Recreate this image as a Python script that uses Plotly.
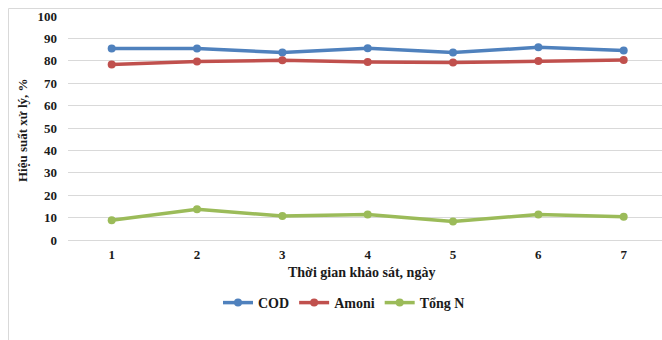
import plotly.graph_objects as go

# Survey days and treatment efficiencies (%)
days = [1, 2, 3, 4, 5, 6, 7]
cod = [85.5, 85.5, 83.7, 85.6, 83.7, 86.0, 84.6]
amoni = [78.3, 79.7, 80.2, 79.5, 79.2, 79.9, 80.4]
tong_n = [8.8, 13.7, 10.7, 11.4, 8.3, 11.4, 10.4]

series_names = ["COD", "Amoni", "Tổng N"]
series_colors = ["#4F81BD", "#C0504D", "#9BBB59"]
y_ticks = list(range(0, 101, 10))

FONT = "Liberation Serif, Times New Roman, serif"
TEXT_COLOR = "#1a1a1a"
GRID = "#D9D9D9"

W, H = 662, 340
L, R, T, B = 68, 0, 16, 100
plot_w = W - L - R
plot_h = H - T - B


def px_x(p):
    return (p - L) / plot_w


def px_y(p):
    return (H - B - p) / plot_h


fig = go.Figure()
for name, vals, col in zip(series_names, [cod, amoni, tong_n], series_colors):
    fig.add_trace(go.Scatter(
        x=days, y=vals, name=name, mode="lines+markers",
        line=dict(color=col, width=3.5),
        marker=dict(color=col, size=8),
    ))

fig.update_layout(
    width=W, height=H,
    margin=dict(l=L, r=R, t=T, b=B),
    paper_bgcolor="white", plot_bgcolor="white",
    font=dict(family=FONT, size=13, color=TEXT_COLOR),
    showlegend=True,
    legend=dict(
        orientation="h", xref="container", yref="container",
        x=218 / W, y=(H - 303) / H, xanchor="left", yanchor="middle",
        font=dict(family=FONT, size=14, color=TEXT_COLOR, weight="bold"),
        itemwidth=30, bgcolor="rgba(0,0,0,0)", tracegroupgap=0,
    ),
    xaxis=dict(
        range=[0.488, 7.449], tickmode="array", tickvals=days,
        ticktext=[str(d) for d in days],
        showgrid=False, zeroline=False,
        showline=True, linecolor=GRID, linewidth=1,
        ticks="", ticklabelstandoff=2,
        tickfont=dict(family=FONT, size=13, color=TEXT_COLOR, weight="bold"),
        fixedrange=True,
    ),
    yaxis=dict(
        range=[0, 100], tickmode="array", tickvals=y_ticks,
        showgrid=True, gridcolor=GRID, gridwidth=1,
        zeroline=False, showline=False,
        ticks="", ticklabelstandoff=10,
        tickfont=dict(family=FONT, size=13, color=TEXT_COLOR, weight="bold"),
        fixedrange=True,
    ),
    annotations=[
        dict(text="Thời gian khảo sát, ngày", xref="paper", yref="paper",
             x=px_x(361), y=px_y(272), xanchor="center", yanchor="middle",
             showarrow=False,
             font=dict(family=FONT, size=14, color=TEXT_COLOR, weight="bold")),
        dict(text="Hiệu suất xử lý, %", xref="paper", yref="paper",
             x=px_x(22), y=px_y(130), xanchor="center", yanchor="middle",
             textangle=-90, showarrow=False,
             font=dict(family=FONT, size=13, color=TEXT_COLOR, weight="bold")),
    ],
    shapes=[
        # chart frame: top and left edges
        dict(type="line", xref="paper", yref="paper",
             x0=px_x(8.5), x1=px_x(662), y0=px_y(8.5), y1=px_y(8.5),
             line=dict(color=GRID, width=1), layer="below"),
        dict(type="line", xref="paper", yref="paper",
             x0=px_x(8.5), x1=px_x(8.5), y0=px_y(8.5), y1=px_y(340),
             line=dict(color=GRID, width=1), layer="below"),
    ],
)

# keep the page from scrolling so the figure fills the window exactly
page_css = (
    "document.documentElement.style.overflow='hidden';"
    "document.body.style.margin='0';"
    "document.body.style.overflow='hidden';"
)

fig.write_html("out.html", config={"displayModeBar": False},
               post_script=page_css)
